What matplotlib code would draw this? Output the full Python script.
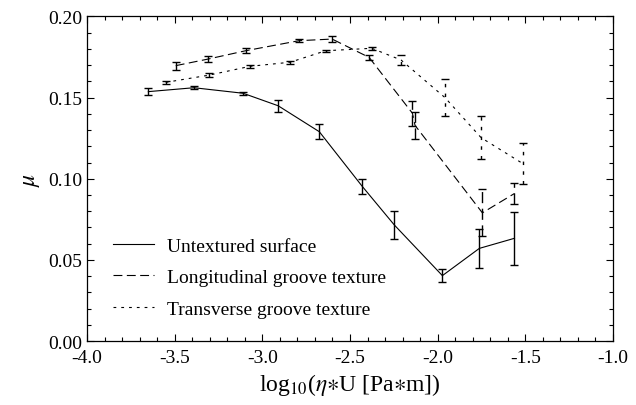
import matplotlib
matplotlib.use("Agg")
import matplotlib.pyplot as plt
from matplotlib.ticker import MultipleLocator, FormatStrFormatter
from matplotlib.lines import Line2D

plt.rcParams['font.family'] = ['Liberation Serif', 'DejaVu Serif']
plt.rcParams['mathtext.fontset'] = 'stix'
plt.rcParams['axes.unicode_minus'] = True

# Untextured surface
unt_x = [-3.65, -3.39, -3.11, -2.91, -2.675, -2.43, -2.247, -1.973, -1.762, -1.562]
unt_y = [0.1537, 0.1561, 0.1527, 0.1450, 0.1290, 0.0953, 0.0715, 0.0403, 0.0571, 0.0633]
unt_e = [0.0020, 0.0010, 0.0010, 0.0036, 0.0048, 0.0044, 0.0084, 0.0042, 0.0121, 0.0164]

# Longitudinal groove texture
lon_x = [-3.494, -3.308, -3.095, -2.79, -2.602, -2.391, -2.144, -2.129, -1.745, -1.562]
lon_y = [0.1697, 0.1738, 0.1789, 0.1851, 0.1861, 0.1748, 0.1404, 0.1329, 0.0790, 0.0909]
lon_e = [0.0025, 0.0020, 0.0015, 0.0010, 0.0017, 0.0015, 0.0077, 0.0084, 0.0144, 0.0065]

# Transverse groove texture
tra_x = [-3.551, -3.302, -3.070, -2.842, -2.638, -2.376, -2.209, -1.958, -1.752, -1.515]
tra_y = [0.1594, 0.1639, 0.1693, 0.1718, 0.1789, 0.1804, 0.1732, 0.1500, 0.1253, 0.1094]
tra_e = [0.0008, 0.0010, 0.0008, 0.0008, 0.0005, 0.0010, 0.0033, 0.0115, 0.0131, 0.0126]

fig = plt.figure(figsize=(6.36, 4.06), dpi=100)
ax = fig.add_axes([0.1368, 0.1576, 0.8270, 0.7993])

series = [
    (unt_x, unt_y, unt_e, '-', 'Untextured surface'),
    (lon_x, lon_y, lon_e, (0, (8, 4)), 'Longitudinal groove texture'),
    (tra_x, tra_y, tra_e, (0, (2.5, 4.5)), 'Transverse groove texture'),
]
handles = []
for x, y, e, ls, lab in series:
    eb = ax.errorbar(x, y, yerr=e, color='black', linestyle=ls, linewidth=0.8,
                     elinewidth=1.0, capsize=3, capthick=1.0)
    if ls != '-':
        eb[2][0].set_linestyle(ls)
    handles.append(Line2D([], [], color='black', linestyle=ls, linewidth=0.8, label=lab))

ax.set_xlim(-4.0, -1.0)
ax.set_ylim(0.0, 0.20)
ax.xaxis.set_major_locator(MultipleLocator(0.5))
ax.xaxis.set_minor_locator(MultipleLocator(0.1))
ax.yaxis.set_major_locator(MultipleLocator(0.05))
ax.yaxis.set_minor_locator(MultipleLocator(0.01))
ax.xaxis.set_major_formatter(FormatStrFormatter('%.1f'))
ax.yaxis.set_major_formatter(FormatStrFormatter('%.2f'))
ax.tick_params(which='both', direction='in', top=True, right=True, labelsize=14, width=0.8)
ax.tick_params(which='major', length=5)
ax.tick_params(which='minor', length=3)
ax.tick_params(axis='x', which='major', pad=6)
for s in ax.spines.values():
    s.set_linewidth(0.9)

ax.set_xlabel(r'log$_{10}$($\eta$$\ast$U [Pa$\ast$m])', fontsize=17, labelpad=3)
ax.set_ylabel(r'$\mu$', fontsize=17)

leg = ax.legend(handles=handles, loc='center left', bbox_to_anchor=(0.049, 0.196),
                frameon=False, fontsize=14, handlelength=2.1, handletextpad=0.7,
                labelspacing=0.72, borderpad=0, borderaxespad=0)

fig.savefig('out.png', dpi=100)
